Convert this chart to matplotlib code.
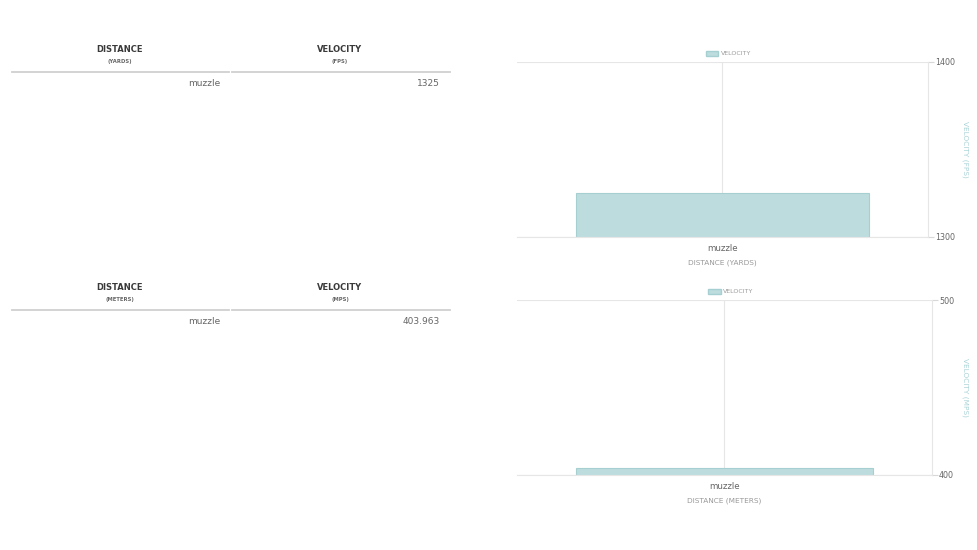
import matplotlib
matplotlib.use("Agg")
import matplotlib.pyplot as plt
from matplotlib.lines import Line2D
from matplotlib.patches import Patch

# data
distance_yards = ["muzzle"]
velocity_fps = [1325]
distance_meters = ["muzzle"]
velocity_mps = [403.963]

plt.rcParams["font.family"] = ["DejaVu Sans"]

W, H = 978, 550
fig = plt.figure(figsize=(W / 100, H / 100), dpi=100)

BAR = "#bddcde"
BAR_EDGE = "#a6cfd2"
GRID = "#e6e6e6"
TEAL_LABEL = "#a9d3d7"


def px(x, y):
    # pixel coords (from top-left) -> figure fraction
    return x / W, 1 - y / H


def table(y0, unit_dist, unit_vel, dists, vels):
    for cx, head, unit in [(120, "DISTANCE", unit_dist), (340, "VELOCITY", unit_vel)]:
        fig.text(*px(cx, y0), head, ha="center", va="center",
                 fontsize=6.0, fontweight="bold", color="#3a3a3a")
        fig.text(*px(cx, y0 + 11), unit, ha="center", va="center",
                 fontsize=3.8, fontweight="bold", color="#666666")
    for x1, x2 in [(12, 229), (232, 450)]:
        fig.add_artist(Line2D([x1 / W, x2 / W], [1 - (y0 + 22) / H] * 2,
                              color="#d0d0d0", lw=1.3))
    for i, (d, v) in enumerate(zip(dists, vels)):
        yy = y0 + 34 + i * 20
        fig.text(*px(220, yy), d, ha="right", va="center", fontsize=6.5, color="#666666")
        fig.text(*px(440, yy), f"{v:g}", ha="right", va="center", fontsize=6.5, color="#666666")


def chart(rect, cats, vals, ylo, yhi, xlabel, ylabel):
    l, t, w, h = rect
    ax = fig.add_axes([l / W, 1 - (t + h) / H, w / W, h / H])
    ax.bar(range(len(cats)), vals, width=0.715, color=BAR, edgecolor=BAR_EDGE,
           linewidth=0.8, bottom=0, zorder=2)
    ax.set_xlim(-0.5, len(cats) - 0.5)
    ax.set_ylim(ylo, yhi)
    ax.set_yticks([ylo, yhi])
    ax.yaxis.tick_right()
    ax.yaxis.set_label_position("right")
    ax.set_xticks(range(len(cats)))
    ax.set_xticklabels(cats)
    ax.tick_params(axis="x", length=0, pad=5, labelsize=6.2, labelcolor="#666666")
    ax.tick_params(axis="y", length=4, color="#d8d8d8", pad=1, labelsize=5.8, labelcolor="#666666")
    for s in ["top", "left"]:
        ax.spines[s].set_visible(False)
    ax.spines["right"].set_color(GRID)
    ax.spines["bottom"].set_color(GRID)
    ax.grid(True, color=GRID, lw=0.8, zorder=0)
    ax.set_axisbelow(True)
    ax.set_xlabel(xlabel, fontsize=5.3, color="#999999", labelpad=5)
    ax.set_ylabel(ylabel, fontsize=5.3, color=TEAL_LABEL, rotation=-90,
                  ha="center", va="center")
    ax.yaxis.set_label_coords((965 - l) / w, 0.5)
    leg = ax.legend(handles=[Patch(facecolor=BAR, edgecolor=BAR_EDGE, label="VELOCITY")],
                    loc="lower center", bbox_to_anchor=(0.515, 1.0), frameon=False,
                    fontsize=4.5, handlelength=2.0, handleheight=0.9, handletextpad=0.4,
                    borderaxespad=0.5)
    for txt in leg.get_texts():
        txt.set_color("#999999")
    return ax


table(50, "(YARDS)", "(FPS)", distance_yards, velocity_fps)
table(288, "(METERS)", "(MPS)", distance_meters, velocity_mps)

chart((517, 62, 411, 175), distance_yards, velocity_fps, 1300, 1400,
      "DISTANCE (YARDS)", "VELOCITY (FPS)")
chart((517, 300, 415, 175), distance_meters, velocity_mps, 400, 500,
      "DISTANCE (METERS)", "VELOCITY (MPS)")

fig.savefig("out.png", dpi=100)
